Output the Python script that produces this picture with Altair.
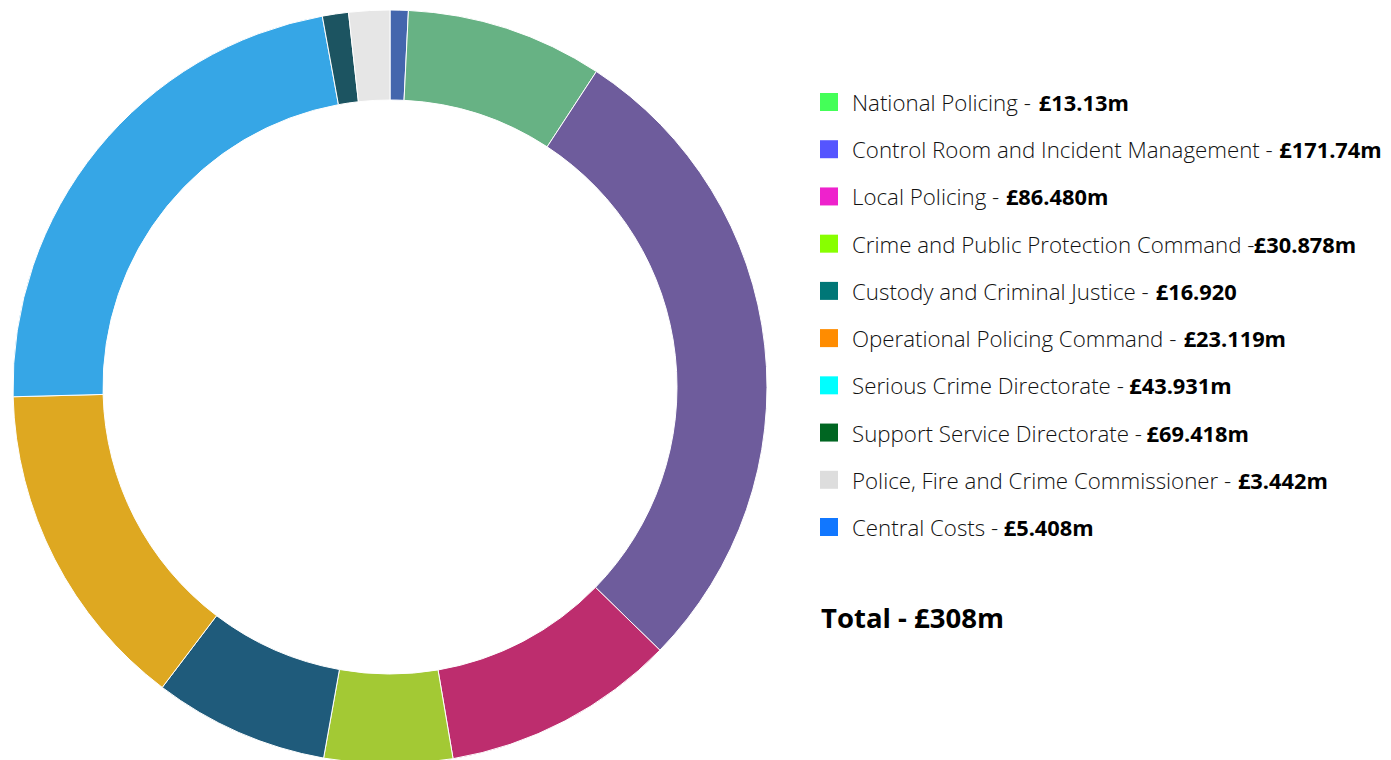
import altair as alt
import pandas as pd

# ---- data ----
categories = [
    "National Policing", "Control Room and Incident Management", "Local Policing",
    "Crime and Public Protection Command", "Custody and Criminal Justice",
    "Operational Policing Command", "Serious Crime Directorate",
    "Support Service Directorate", "Police, Fire and Crime Commissioner", "Central Costs",
]
slice_values = [2.4, 26.0, 86.48, 30.878, 16.92, 23.119, 43.931, 69.418, 3.442, 5.408]
slice_colors = ["#4466ad", "#67b284", "#6e5c9c", "#bd2d6e", "#a3c934",
                "#1f5b7b", "#dea821", "#36a6e6", "#1c5461", "#e6e6e6"]
legend_text = [
    "National Policing - ", "Control Room and Incident Management - ", "Local Policing - ",
    "Crime and Public Protection Command -", "Custody and Criminal Justice - ",
    "Operational Policing Command - ", "Serious Crime Directorate - ",
    "Support Service Directorate - ", "Police, Fire and Crime Commissioner - ",
    "Central Costs - ",
]
legend_amounts = ["£13.13m", "£171.74m", "£86.480m", "£30.878m", "£16.920",
                  "£23.119m", "£43.931m", "£69.418m", "£3.442m", "£5.408m"]
legend_colors = ["#44ff58", "#5555ff", "#ee22cc", "#88ff00", "#007777",
                 "#ff8c00", "#00ffff", "#006622", "#dddddd", "#1177ff"]
total_text = "Total - £308m"

# ---- layout / style ----
FONT = "Open Sans"
FS = 22.3
FS_BOLD = 21.8
CX, CY = 382, 379
R_OUT, R_IN = 377, 287
LEG_SQ_X = 821
LEG_TXT_X = 844
ROW_Y0, ROW_Y1 = 94, 519
LIGHT_FACTOR = 0.963  # light weight is a bit narrower than the regular metrics below
SPACE_EXTRA = 1.0

# Open Sans regular advance widths (units per 2048 em) to flow the bold amount after the label
OS_W = {' ': 532, '-': 659, ',': 500, '.': 545, 'A': 1296, 'B': 1327, 'C': 1292, 'D': 1493,
        'E': 1139, 'F': 1057, 'G': 1491, 'H': 1511, 'I': 571, 'J': 547, 'L': 1073, 'M': 1849,
        'N': 1556, 'O': 1599, 'P': 1239, 'R': 1280, 'S': 1106, 'T': 1141, 'a': 1139, 'b': 1255,
        'c': 975, 'd': 1255, 'e': 1149, 'f': 694, 'g': 1122, 'h': 1257, 'i': 518, 'j': 518,
        'k': 1075, 'l': 518, 'm': 1905, 'n': 1257, 'o': 1237, 'p': 1255, 'q': 1255, 'r': 836,
        's': 977, 't': 723, 'u': 1257, 'v': 1026, 'w': 1593, 'x': 1073, 'y': 1028, 'z': 977}


def text_width(s, size):
    w = sum(OS_W.get(ch, 1100) for ch in s) / 2048 * size * LIGHT_FACTOR
    if s.endswith(" "):
        w += SPACE_EXTRA
    return w


slices = pd.DataFrame({
    "name": categories,
    "value": slice_values,
    "idx": list(range(len(categories))),
})

legend = pd.DataFrame({
    "row": list(range(len(categories))),
    "label": legend_text,
    "amount": legend_amounts,
    "color": legend_colors,
    "sqx": [LEG_SQ_X] * len(categories),
    "tx": [LEG_TXT_X] * len(categories),
    "bx": [LEG_TXT_X + text_width(t, FS) for t in legend_text],
})

donut = alt.Chart(slices).mark_arc(
    outerRadius=R_OUT, innerRadius=R_IN, stroke="white", strokeWidth=1
).encode(
    theta=alt.Theta("value:Q", stack=True),
    color=alt.Color("name:N", scale=alt.Scale(domain=categories, range=slice_colors), legend=None),
    order=alt.Order("idx:Q"),
    x=alt.value(CX),
    y=alt.value(CY),
)

yscale = alt.Scale(domain=[0, len(categories) - 1], range=[ROW_Y0, ROW_Y1])

squares = alt.Chart(legend).mark_square(size=324, opacity=1, filled=True).encode(
    x=alt.X("sqx:Q", scale=None, axis=None),
    y=alt.Y("row:Q", scale=yscale, axis=None),
    fill=alt.Fill("color:N", scale=None),
)

labels = alt.Chart(legend).mark_text(
    align="left", baseline="alphabetic", dy=9, font=FONT, fontSize=FS,
    fontWeight=300, color="#111111"
).encode(
    x=alt.X("tx:Q", scale=None, axis=None),
    y=alt.Y("row:Q", scale=yscale, axis=None),
    text="label:N",
)

amounts = alt.Chart(legend).mark_text(
    align="left", baseline="alphabetic", dy=9, font=FONT, fontSize=FS_BOLD,
    fontWeight="bold", color="#000000"
).encode(
    x=alt.X("bx:Q", scale=None, axis=None),
    y=alt.Y("row:Q", scale=yscale, axis=None),
    text="amount:N",
)

total = alt.Chart(pd.DataFrame({"t": [total_text]})).mark_text(
    align="left", baseline="alphabetic", font=FONT, fontSize=27.5,
    fontWeight="bold", color="#000000"
).encode(
    x=alt.value(813),
    y=alt.value(620),
    text="t:N",
)

chart = alt.layer(donut, squares, labels, amounts, total).properties(
    width=1375, height=752, padding=0, autosize="none", background="white"
).configure_view(stroke=None)

chart.save("out.html", embed_options={"renderer": "svg", "actions": False})
